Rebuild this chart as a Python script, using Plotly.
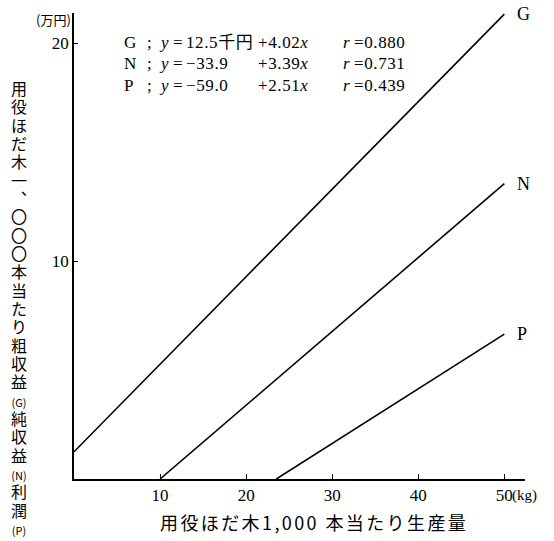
import plotly.graph_objects as go

# Regression results (千円 per 1,000 logs; x = production in kg)
series = ["G", "N", "P"]
intercepts = [12.5, -33.9, -59.0]   # 千円
intercept_text = ["12.5千円", "−33.9", "−59.0"]
slopes = [4.02, 3.39, 2.51]         # 千円 per kg
r_values = [0.880, 0.731, 0.439]
x_max = 50

x_ticks = [10, 20, 30, 40, 50]
y_ticks = [10, 20]

SERIF = "Liberation Serif, Noto Sans CJK JP"
CJK = "Noto Sans CJK JP"

W, H = 554, 541
L, R, T, B = 74, 29, 13, 62
plot_w = W - L - R
plot_h = H - T - B


def px_x(px):
    return (px - L) / plot_w


def px_y(py):
    return (H - B - py) / plot_h


fig = go.Figure()

for name, a, b in zip(series, intercepts, slopes):
    # line in 万円, clipped at y = 0
    x0 = max(0.0, -a / b)
    xs = [x0, x_max]
    ys = [(a + b * x) / 10 for x in xs]
    fig.add_trace(go.Scatter(x=xs, y=ys, mode="lines",
                             line=dict(color="black", width=1.6),
                             showlegend=False, hoverinfo="skip"))
    fig.add_annotation(x=x_max, y=ys[-1], text=name, showarrow=False,
                       xanchor="left", yanchor="middle", xshift=11,
                       font=dict(family=SERIF, size=18, color="black"))

# equation block
row_px = [42, 64, 86]
for name, it, s, r, py in zip(series, intercept_text, slopes, r_values, row_px):
    cols = (
        (name, 122),
        (";", 145),
        ("<i>y</i>", 157),
        ("=", 171),
        (it, 184),
        ("+{:.2f}<i>x</i>".format(s), 256),
        ("<i>r</i>", 341),
        ("={:.3f}".format(r), 352),
    )
    for txt, px in cols:
        fig.add_annotation(xref="paper", yref="paper", x=px_x(px), y=px_y(py),
                           text='<span style="letter-spacing:0.6px">' + txt + "</span>",
                           showarrow=False, xanchor="left", yanchor="middle",
                           font=dict(family=SERIF, size=17, color="black"))

# vertical y-axis title, one glyph per row
ytitle = ["用", "役", "ほ", "だ", "木", "一", "︑", "〇", "〇", "〇", "本", "当",
          "た", "り", "粗", "収", "益", "(G)", "純", "収", "益", "(N)", "利", "潤", "(P)"]
rows = []
for ch in ytitle:
    size = 11 if ch.startswith("(") else 16
    rows.append('<span style="font-size:{}px">{}</span>'.format(size, ch))
fig.add_annotation(xref="paper", yref="paper", x=px_x(19), y=px_y(307),
                   text="<br>".join(rows), showarrow=False,
                   xanchor="center", yanchor="middle",
                   font=dict(family=CJK, size=14.1, color="black"))

# unit label on y axis
fig.add_annotation(xref="paper", yref="paper", x=px_x(73), y=px_y(19),
                   text="(万円)", showarrow=False, xanchor="right", yanchor="middle",
                   font=dict(family=CJK, size=13, color="black"))

# unit after the last x tick
fig.add_annotation(x=x_max, y=0, yref="y", text="(kg)", showarrow=False,
                   xanchor="left", yanchor="middle", xshift=6, yshift=-16,
                   font=dict(family=SERIF, size=15, color="black"))

# x-axis title
fig.add_annotation(xref="paper", yref="paper", x=px_x(314), y=px_y(522),
                   text='<span style="letter-spacing:2.4px">用役ほだ木1,000 本当たり生産量</span>',
                   showarrow=False, xanchor="center", yanchor="middle",
                   font=dict(family=CJK, size=18, color="black"))

fig.update_xaxes(range=[0, 52.4], showline=True, linecolor="black", linewidth=1.6,
                 ticks="inside", ticklen=5, tickcolor="black", tickwidth=1.2,
                 tickvals=x_ticks, ticktext=[str(v) for v in x_ticks],
                 showgrid=False, zeroline=False,
                 tickfont=dict(family=SERIF, size=17, color="black"))
fig.update_yaxes(range=[0, 21.4], showline=True, linecolor="black", linewidth=1.6,
                 ticks="inside", ticklen=4, tickcolor="black", tickwidth=1.2,
                 tickvals=y_ticks, ticktext=[str(v) for v in y_ticks],
                 showgrid=False, zeroline=False,
                 tickfont=dict(family=SERIF, size=17, color="black"))

fig.update_layout(width=W, height=H, autosize=False,
                  margin=dict(l=L, r=R, t=T, b=B),
                  paper_bgcolor="white", plot_bgcolor="white",
                  showlegend=False)

fig.write_html("out.html")
